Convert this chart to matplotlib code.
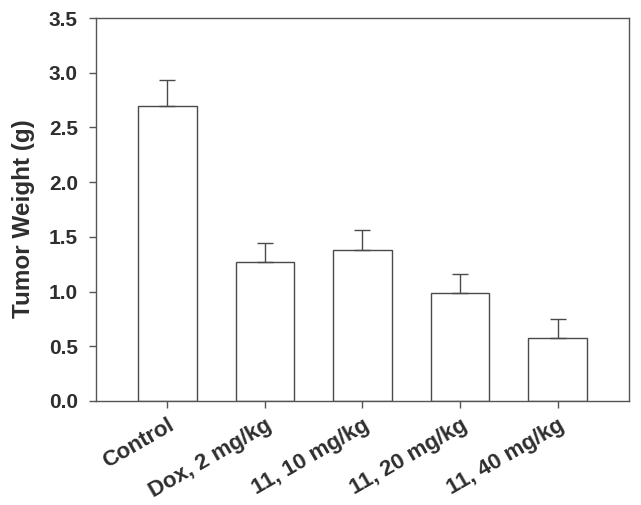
import numpy as np
import matplotlib
matplotlib.use('Agg')
import matplotlib.pyplot as plt

groups = ['Control', 'Dox, 2 mg/kg', '11, 10 mg/kg', '11, 20 mg/kg', '11, 40 mg/kg']
weights = [2.70, 1.27, 1.38, 0.99, 0.58]
errors = [0.23, 0.17, 0.18, 0.17, 0.17]

plt.rcParams['font.family'] = ['Liberation Sans', 'DejaVu Sans']
plt.rcParams['font.weight'] = 'bold'

ink = '#2e2e2e'
fig = plt.figure(figsize=(6.41, 5.05), dpi=100)
ax = fig.add_axes([96/641, 1 - 401/505, (629-96)/641, (401-18)/505])

x = np.arange(len(groups))
ax.bar(x, weights, width=0.6, color='white', edgecolor='#4a4a4a', linewidth=1.0, zorder=2)
ax.errorbar(x, weights, yerr=[np.zeros(len(errors)), errors], fmt='none',
            ecolor='#4a4a4a', elinewidth=1.0, capsize=6, capthick=1.0, zorder=3)

ax.set_xlim(-0.73, 4.73)
ax.set_ylim(0, 3.5)
yt = np.arange(0, 3.51, 0.5)
ax.set_yticks(yt)
ax.set_yticklabels(['%.1f' % v for v in yt], fontsize=15)
ax.set_xticks(x)
ax.set_xticklabels(groups, rotation=30, ha='right', rotation_mode='anchor', fontsize=16)

for s in ax.spines.values():
    s.set_color('#555555')
    s.set_linewidth(1.0)
ax.tick_params(direction='out', length=5, width=1.0, color='#555555', labelcolor=ink)
ax.tick_params(axis='y', pad=8)
ax.tick_params(axis='x', pad=5)
ax.set_ylabel('Tumor Weight (g)', fontsize=17.5, color=ink, fontweight='bold')
ax.yaxis.set_label_coords(-0.115, 0.475)

fig.savefig('out.png', dpi=100)
